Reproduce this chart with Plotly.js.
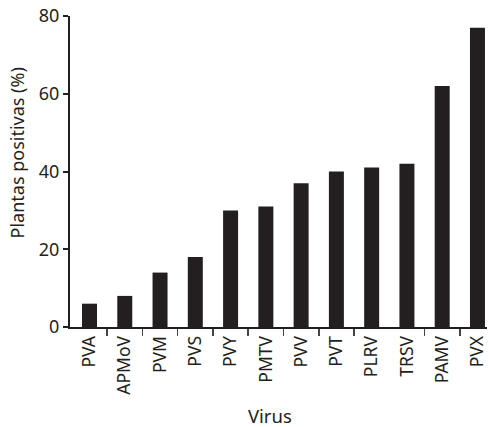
<!DOCTYPE html>
<html>
<head>
<meta charset="utf-8">
<script src="https://cdn.plot.ly/plotly-3.0.1.min.js"></script>
<style>html,body{margin:0;padding:0;background:#fff;}#chart{width:489px;height:427px;}</style>
</head>
<body>
<div id="chart"></div>
<script>
// Data
const viruses = ["PVA", "APMoV", "PVM", "PVS", "PVY", "PMTV", "PVV", "PVT", "PLRV", "TRSV", "PAMV", "PVX"];
const positivePct = [6, 8, 14, 18, 30, 31, 37, 40, 41, 42, 62, 77];
const yTicks = [0, 20, 40, 60, 80];
// boundary ticks drawn under the axis (the reference lacks the one between PLRV and TRSV)
const boundaryTicks = [0.5, 1.5, 2.5, 3.5, 4.5, 5.5, 6.5, 7.5, 9.5, 10.5];

const ink = "#231f20";
const fontFam = "'Noto Sans', 'Open Sans', sans-serif";
const idx = viruses.map((_, i) => i);

const trace = {
  type: "bar",
  x: idx,
  y: positivePct,
  width: 0.425,
  marker: {color: ink, line: {width: 0}},
  hoverinfo: "skip"
};

const layout = {
  width: 489,
  height: 427,
  margin: {l: 70, r: 2, t: 16, b: 100},
  paper_bgcolor: "#fff",
  plot_bgcolor: "#fff",
  showlegend: false,
  font: {family: fontFam, size: 18, color: ink},
  xaxis: {
    range: [-0.553, 11.27],
    tickmode: "array",
    tickvals: idx,
    ticktext: viruses,
    tickangle: -90,
    ticks: "",
    ticklen: 0,
    showgrid: false,
    zeroline: false,
    showline: true,
    linecolor: ink,
    linewidth: 2,
    tickfont: {family: fontFam, size: 17.5, color: ink},
    minor: {tickmode: "array", tickvals: boundaryTicks, ticks: "outside", ticklen: 7, tickwidth: 1.5, tickcolor: "#444", showgrid: false},
    fixedrange: true
  },
  yaxis: {
    range: [0, 80],
    tickmode: "array",
    tickvals: yTicks,
    ticks: "outside",
    ticklen: 5,
    tickwidth: 2,
    tickcolor: ink,
    showgrid: false,
    zeroline: false,
    showline: true,
    linecolor: ink,
    linewidth: 2,
    tickfont: {family: fontFam, size: 18, color: ink},
    fixedrange: true
  },
  annotations: [
    {text: "Plantas positivas (%)", xref: "paper", yref: "paper", x: -0.128, y: 0.56,
     xanchor: "center", yanchor: "middle", textangle: -90, showarrow: false,
     font: {family: fontFam, size: 18, color: ink}},
    {text: "Virus", xref: "paper", yref: "paper", x: 0.48, y: -0.286,
     xanchor: "center", yanchor: "middle", showarrow: false,
     font: {family: fontFam, size: 18.5, color: ink}}
  ]
};

Plotly.newPlot("chart", [trace], layout, {displayModeBar: false, staticPlot: true});
</script>
</body>
</html>
